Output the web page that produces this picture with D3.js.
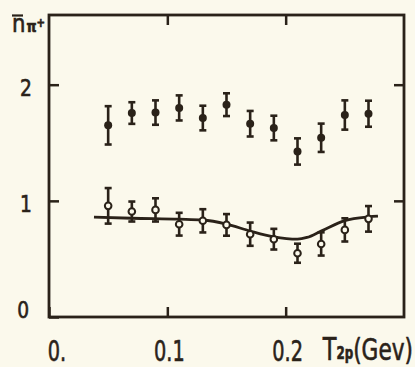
<!DOCTYPE html>
<html lang="en">
<head>
    <meta charset="UTF-8">
    <title>n pi+ vs T2p</title>
    <script src="https://d3js.org/d3.v7.min.js"></script>
    <style>
        body { margin: 0; background: #fbf9ec; }
        svg { display: block; }
        text {
            font-family: "DejaVu Sans Condensed", "DejaVu Sans", sans-serif;
            fill: #2a2219;
            stroke: #2a2219;
            stroke-width: 0.6px;
        }
        .axis line { stroke: #2a2219; stroke-width: 2.5px; }
        .axis path { display: none; }
        .frame { fill: none; stroke: #2a2219; stroke-width: 2.8px; }
        .err { stroke: #2a2219; stroke-width: 2.6px; }
        .curve { fill: none; stroke: #2a2219; stroke-width: 2.8px; }
    </style>
</head>
<body>
<svg width="415" height="367"></svg>
<script>
    // T_2p values (GeV)
    const tValues = [0.05, 0.07, 0.09, 0.11, 0.13, 0.15, 0.17, 0.19, 0.21, 0.23, 0.25, 0.27];

    // filled points (upper series)
    const upperVals = [1.65, 1.756, 1.76, 1.80, 1.713, 1.828, 1.664, 1.627, 1.425, 1.543, 1.739, 1.75];
    const upperErrs = [0.165, 0.093, 0.105, 0.108, 0.106, 0.098, 0.11, 0.106, 0.113, 0.122, 0.126, 0.112];

    // open points (lower series)
    const lowerVals = [0.957, 0.908, 0.922, 0.799, 0.828, 0.793, 0.713, 0.67, 0.549, 0.629, 0.75, 0.845];
    const lowerErrs = [0.153, 0.086, 0.10, 0.098, 0.10, 0.093, 0.10, 0.089, 0.082, 0.10, 0.10, 0.11];

    // calculated curve
    const curveT = [0.038, 0.07, 0.11, 0.13, 0.15, 0.17, 0.19, 0.21, 0.218, 0.23, 0.25, 0.27, 0.278];
    const curveV = [0.86, 0.85, 0.842, 0.835, 0.80, 0.74, 0.69, 0.67, 0.685, 0.74, 0.83, 0.862, 0.868];

    const xTicks = [0, 0.1, 0.2];
    const yTicks = [0, 1, 2];

    const svg = d3.select("svg");
    const ink = "#2a2219";
    const bg = "#fbf9ec";

    svg.append("rect").attr("width", 415).attr("height", 367).attr("fill", bg);

    const x = d3.scaleLinear().domain([0, 0.3]).range([49, 404]);
    const y = d3.scaleLinear().domain([0, 2.6]).range([317, 15]);

    // frame
    svg.append("rect")
        .attr("class", "frame")
        .attr("x", x(0)).attr("y", y(2.6))
        .attr("width", x(0.3) - x(0)).attr("height", y(0) - y(2.6));

    // bottom axis (inward ticks), narrow tall digits
    svg.append("g")
        .attr("class", "axis")
        .attr("transform", `translate(0,${y(0)})`)
        .call(d3.axisBottom(x).tickValues(xTicks).tickSize(-10).tickPadding(23)
            .tickFormat(d => d === 0 ? "0." : d3.format(".1f")(d)))
        .selectAll("text")
        .attr("font-size", 29)
        .attr("font-family", null)
        .attr("fill", ink)
        .attr("x", d => d === 0 ? 10 : 2)
        .attr("transform", "scale(0.74,1)");

    // top axis
    svg.append("g")
        .attr("class", "axis")
        .attr("transform", `translate(0,${y(2.6)})`)
        .call(d3.axisTop(x).tickValues([0.1, 0.2]).tickSize(-10).tickFormat(""));

    // left axis
    svg.append("g")
        .attr("class", "axis")
        .attr("transform", `translate(${x(0)},0)`)
        .call(d3.axisLeft(y).tickValues(yTicks).tickSize(-10).tickPadding(17).tickFormat(d3.format("d")))
        .selectAll("text")
        .attr("font-size", 23)
        .attr("font-family", null)
        .attr("fill", ink)
        .attr("x", d => d === 0 ? -22 : -19)
        .attr("transform", "scale(0.9,1)")
        .attr("dy", d => d === 0 ? "0.02em" : "0.45em");

    // right axis
    svg.append("g")
        .attr("class", "axis")
        .attr("transform", `translate(${x(0.3)},0)`)
        .call(d3.axisRight(y).tickValues([1, 2]).tickSize(-10).tickFormat(""));

    // curve
    const line = d3.line()
        .x((d, i) => x(curveT[i]))
        .y(d => y(d))
        .curve(d3.curveMonotoneX);
    svg.append("path").attr("class", "curve").attr("d", line(curveV));

    function drawSeries(vals, errs, open) {
        const g = svg.append("g");
        const pts = g.selectAll("g").data(vals).enter().append("g");
        pts.append("line").attr("class", "err")
            .attr("x1", (d, i) => x(tValues[i])).attr("x2", (d, i) => x(tValues[i]))
            .attr("y1", (d, i) => y(d - errs[i])).attr("y2", (d, i) => y(d + errs[i]));
        [-1, 1].forEach(s => {
            pts.append("line").attr("class", "err")
                .attr("x1", (d, i) => x(tValues[i]) - 3.5).attr("x2", (d, i) => x(tValues[i]) + 3.5)
                .attr("y1", (d, i) => y(d + s * errs[i])).attr("y2", (d, i) => y(d + s * errs[i]));
        });
        pts.append("circle")
            .attr("cx", (d, i) => x(tValues[i]))
            .attr("cy", d => y(d))
            .attr("r", open ? 3.3 : 4)
            .attr("fill", open ? bg : ink)
            .attr("stroke", ink)
            .attr("stroke-width", open ? 2 : 0);
    }
    drawSeries(upperVals, upperErrs, false);
    drawSeries(lowerVals, lowerErrs, true);

    // fit a text group horizontally between two x positions
    function fitWidth(g, left, right) {
        const b = g.node().getBBox();
        const k = (right - left) / b.width;
        g.attr("transform", `translate(${left},0) scale(${k},1) translate(${-b.x},0)`);
    }

    // y axis title: n-bar with pi+ subscript
    const ytg = svg.append("g");
    const yt = ytg.append("text").attr("x", 0).attr("y", 32);
    yt.append("tspan").attr("font-size", 25).text("n");
    yt.append("tspan").attr("font-size", 15).attr("font-weight", "bold").attr("dx", 1).text("\u03c0");
    yt.append("tspan").attr("font-size", 12).attr("font-weight", "bold").attr("dy", -5).text("+");
    fitWidth(ytg, 12, 45);
    svg.append("line").attr("x1", 12).attr("x2", 23).attr("y1", 15.5).attr("y2", 15.5)
        .attr("stroke", ink).attr("stroke-width", 2.2);

    // x axis title
    const xtg = svg.append("g");
    const xt = xtg.append("text").attr("x", 0).attr("y", 360);
    xt.append("tspan").attr("font-size", 32).text("T");
    xt.append("tspan").attr("font-size", 17).attr("font-weight", "bold").attr("dy", -1).text("2p");
    xt.append("tspan").attr("font-size", 31).attr("dy", 1).text("(Gev)");
    fitWidth(xtg, 322, 413);
</script>
</body>
</html>
